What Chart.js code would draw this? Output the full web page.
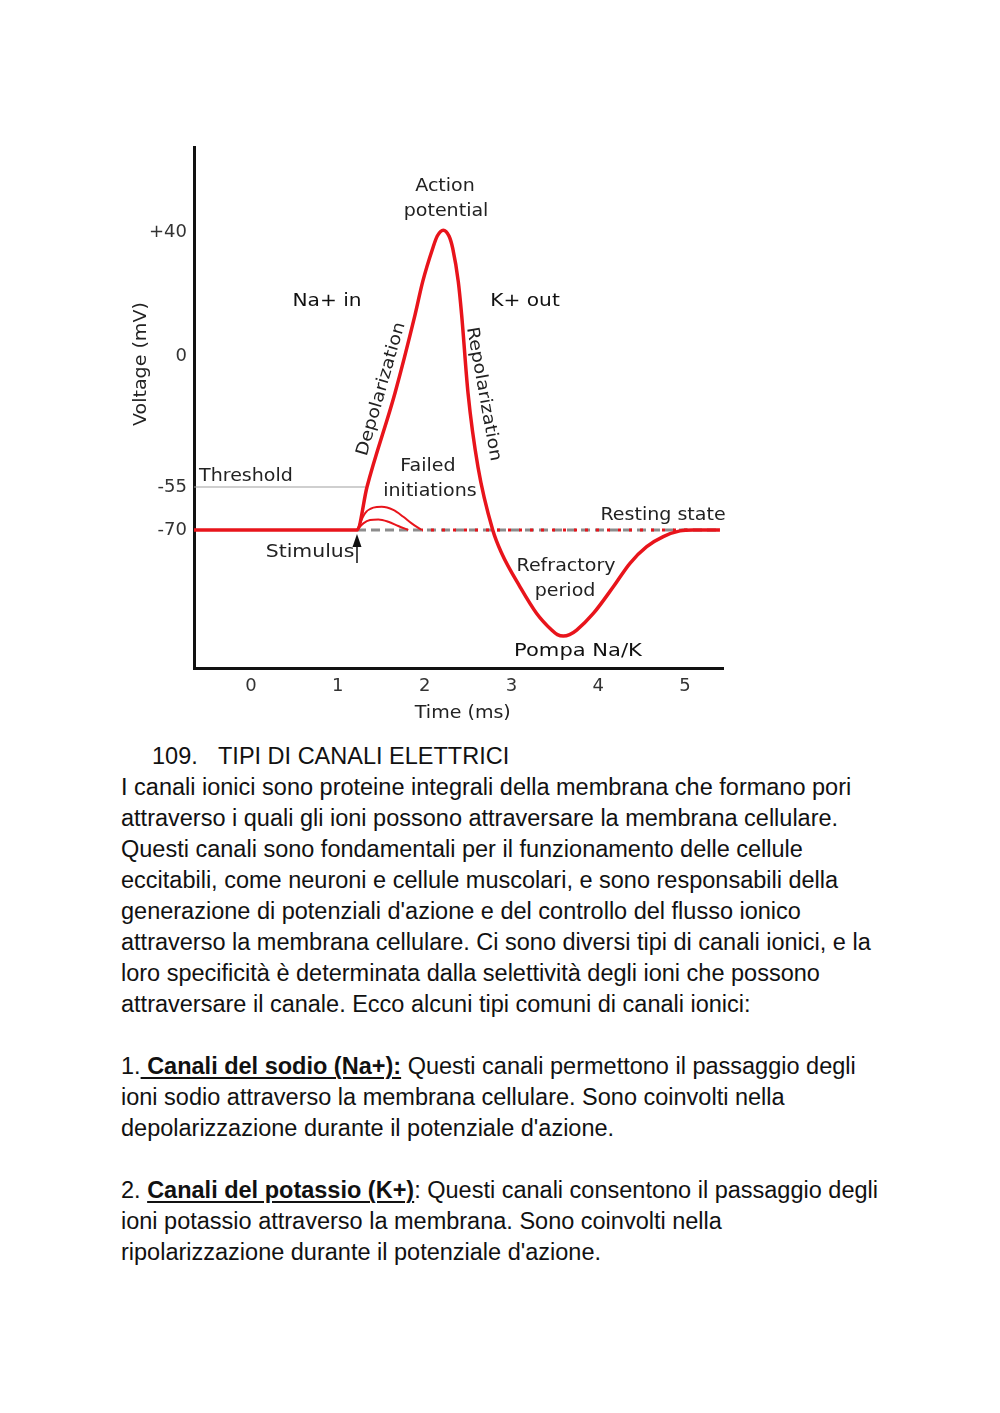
<!DOCTYPE html>
<html>
<head>
<meta charset="utf-8">
<script src="https://cdn.jsdelivr.net/npm/chart.js@4.4.1/dist/chart.umd.min.js"></script>
<style>
html,body{margin:0;padding:0;background:#fff;}
#page{position:relative;width:1000px;height:1413px;overflow:hidden;}
#chartBox{position:absolute;left:0;top:0;width:1000px;height:740px;}
#text{position:absolute;left:121px;top:741px;font-family:"Liberation Sans",Arial,sans-serif;font-size:23.5px;line-height:31px;color:#111;white-space:nowrap;}
#text .num{display:inline-block;width:66px;margin-left:31px;}
#text u{text-decoration-thickness:2px;text-underline-offset:3px;}
</style>
</head>
<body>
<div id="page">
  <div id="chartBox"><canvas id="apChart" width="1000" height="740"></canvas></div>
  <div id="text">
    <div><span class="num">109.</span>TIPI DI CANALI ELETTRICI</div>
    <div>I canali ionici sono proteine integrali della membrana che formano pori</div>
    <div>attraverso i quali gli ioni possono attraversare la membrana cellulare.</div>
    <div>Questi canali sono fondamentali per il funzionamento delle cellule</div>
    <div>eccitabili, come neuroni e cellule muscolari, e sono responsabili della</div>
    <div>generazione di potenziali d'azione e del controllo del flusso ionico</div>
    <div>attraverso la membrana cellulare. Ci sono diversi tipi di canali ionici, e la</div>
    <div>loro specificità è determinata dalla selettività degli ioni che possono</div>
    <div>attraversare il canale. Ecco alcuni tipi comuni di canali ionici:</div>
    <div>&nbsp;</div>
    <div>1.<u><b> Canali del sodio (Na+):</b></u> Questi canali permettono il passaggio degli</div>
    <div>ioni sodio attraverso la membrana cellulare. Sono coinvolti nella</div>
    <div>depolarizzazione durante il potenziale d'azione.</div>
    <div>&nbsp;</div>
    <div>2. <u><b>Canali del potassio (K+)</b></u>: Questi canali consentono il passaggio degli</div>
    <div>ioni potassio attraverso la membrana. Sono coinvolti nella</div>
    <div>ripolarizzazione durante il potenziale d'azione.</div>
  </div>
</div>
<script>
// ================= DATA =================
// action potential (time in ms, voltage in mV)
const apTime    = [-0.66, 1.221, 1.336, 1.659, 1.889, 1.978, 2.093, 2.146, 2.215, 2.281, 2.324, 2.388, 2.427, 2.500, 2.615, 2.785, 2.888, 3.099, 3.291, 3.464, 3.530, 3.598, 3.670, 3.752, 3.944, 4.174, 4.366, 4.559, 4.750, 4.942, 5.092, 5.403];
const apVoltage = [-70, -70, -55, -15.5, 13.2, 24.0, 34.7, 38.7, 40.6, 38.7, 34.7, 24.0, 13.2, -15.5, -46.6, -70, -78.1, -89.8, -99.1, -104.9, -106.5, -107.0, -106.5, -104.9, -99.1, -89.8, -81.6, -75.8, -72.3, -70.3, -70, -70];

// failed initiations
const fail1Time    = [1.221, 1.313, 1.409, 1.506, 1.639, 1.755, 1.851, 1.967];
const fail1Voltage = [-70, -64.2, -62.2, -61.9, -63.0, -65.4, -67.7, -70];
const fail2Time    = [1.221, 1.294, 1.371, 1.467, 1.582, 1.697, 1.812];
const fail2Voltage = [-70, -67.7, -66.5, -66.3, -67.1, -68.6, -70];

// resting state and threshold
const restTime       = [1.221, 5.403];
const restVoltage    = [-70, -70];
const restRedTime    = [1.97, 5.06];
const restRedVoltage = [-70, -70];
const threshTime     = [-0.66, 1.313];
const threshVoltage  = [-55, -55];

// ticks
const xTicks = [0, 1, 2, 3, 4, 5];
const yTicks = [40, 0, -55, -70];
const yTickLabels = ["+40", "0", "-55", "-70"];

// ================= Y AXIS (not to scale in the original) =================
// value -> fraction of the axis height, piecewise linear
const yMin = -118.13, yMax = 67.42;
const yBreakValues = [yMin, -70, -55, 0, 40, yMax];
const yBreakFracs  = [0, 0.26488, 0.34741, 0.59885, 0.83685, 1];

function toFrac(v){
    const b = yBreakValues, f = yBreakFracs;
    let i = 0;
    while(i < b.length - 2 && v > b[i+1]) i++;
    return f[i] + (v - b[i]) / (b[i+1] - b[i]) * (f[i+1] - f[i]);
}
function fromFrac(d){
    const b = yBreakValues, f = yBreakFracs;
    let i = 0;
    while(i < f.length - 2 && d > f[i+1]) i++;
    return b[i] + (d - f[i]) / (f[i+1] - f[i]) * (b[i+1] - b[i]);
}

class PiecewiseScale extends Chart.LinearScale {
    getPixelForValue(value){ return value === null ? NaN : this.getPixelForDecimal(toFrac(value)); }
    getValueForPixel(pixel){ return fromFrac(this.getDecimalForPixel(pixel)); }
}
PiecewiseScale.id = "piecewise";
PiecewiseScale.defaults = Chart.LinearScale.defaults;
Chart.register(PiecewiseScale);

// ================= HELPERS =================
const RED = "#e8141b";
const pts = (xs, ys) => xs.map((x, i) => ({x: x, y: ys[i]}));

function drawLabel(ctx, text, x, y, o){
    o = o || {};
    ctx.save();
    ctx.translate(x, y);
    if(o.rot) ctx.rotate(o.rot * Math.PI / 180);
    ctx.scale(o.sx || 1.12, 1);
    ctx.font = (o.weight || "normal") + " " + (o.size || 17) + "px 'DejaVu Sans'";
    ctx.fillStyle = o.color || "#222";
    ctx.textAlign = o.align || "center";
    ctx.textBaseline = "middle";
    ctx.fillText(text, 0, 0);
    ctx.restore();
}

// annotation texts, anchored in data units
const notes = [
    {text:"Action",         t:2.235, v:54.5},
    {text:"potential",      t:2.247, v:46.5},
    {text:"Na+ in",         t:0.876, v:17.5, size:18, color:"#111"},
    {text:"K+ out",         t:3.157, v:17.5, size:18, color:"#111"},
    {text:"Depolarization", t:1.503, v:-13.9, rot:-73.9},
    {text:"Repolarization", t:2.678, v:-16.0, rot:79.8},
    {text:"Threshold",      t:-0.599, v:-50.8, align:"left"},
    {text:"Failed",         t:2.039, v:-46.6},
    {text:"initiations",    t:2.062, v:-56.7},
    {text:"Resting state",  t:4.747, v:-64.8},
    {text:"Stimulus",       t:0.680, v:-78.0, sx:1.2},
    {text:"Refractory",     t:3.629, v:-82.9},
    {text:"period",         t:3.618, v:-91.6},
    {text:"Pompa Na/K",     t:3.767, v:-112.2, size:18, color:"#111", sx:1.17}
];

const notesPlugin = {
    id: "notes",
    afterDatasetsDraw(chart){
        const ctx = chart.ctx, sx = chart.scales.x, sy = chart.scales.y, a = chart.chartArea;
        notes.forEach(n => drawLabel(ctx, n.text, sx.getPixelForValue(n.t), sy.getPixelForValue(n.v), n));

        // stimulus arrow
        const px = sx.getPixelForValue(restTime[0]), py = sy.getPixelForValue(-70);
        ctx.save();
        ctx.strokeStyle = "#111"; ctx.fillStyle = "#111"; ctx.lineWidth = 1.5;
        ctx.beginPath(); ctx.moveTo(px, py + 14); ctx.lineTo(px, py + 33); ctx.stroke();
        ctx.beginPath(); ctx.moveTo(px, py + 4); ctx.lineTo(px - 4.5, py + 17); ctx.lineTo(px + 4.5, py + 17); ctx.closePath(); ctx.fill();
        ctx.restore();

        // axis titles
        drawLabel(ctx, "Voltage (mV)", a.left - 52, sy.getPixelForValue(-3.4), {rot:-90});
        drawLabel(ctx, "Time (ms)", sx.getPixelForValue(2.44), a.bottom + 46, {});
    }
};

// ================= CHART =================
const lineDs = (data, color, width, extra) => Object.assign({
    data: data, borderColor: color, borderWidth: width, pointRadius: 0,
    fill: false, cubicInterpolationMode: "monotone"
}, extra || {});

new Chart(document.getElementById("apChart").getContext("2d"), {
    type: "line",
    data: {
        datasets: [
            lineDs(pts(apTime, apVoltage), RED, 3.5),
            lineDs(pts(fail1Time, fail1Voltage), RED, 2),
            lineDs(pts(fail2Time, fail2Voltage), RED, 2),
            lineDs(pts(restRedTime, restRedVoltage), RED, 3, {borderDash:[3, 8], borderDashOffset:-9}),
            lineDs(pts(restTime, restVoltage), "#8c8c8c", 3, {borderDash:[9, 5]}),
            lineDs(pts(threshTime, threshVoltage), "#a0a0a0", 1.2)
        ]
    },
    options: {
        responsive: false, animation: false, devicePixelRatio: 1,
        layout: {padding: {left: 0, top: 147, right: 277, bottom: 0}},
        plugins: {legend: {display: false}, tooltip: {enabled: false}},
        scales: {
            x: {
                type: "linear", min: -0.657, max: 5.438,
                grid: {display: false, drawTicks: false},
                border: {display: true, color: "#111", width: 3},
                ticks: {font: {family: "DejaVu Sans", size: 18}, color: "#333", padding: 8},
                afterBuildTicks: s => { s.ticks = xTicks.map(v => ({value: v})); },
                afterFit: s => { s.height = 72; }
            },
            y: {
                type: "piecewise", min: yMin, max: yMax,
                grid: {display: false, drawTicks: false},
                border: {display: true, color: "#111", width: 3},
                ticks: {font: {family: "DejaVu Sans", size: 18}, color: "#333", padding: 7,
                        callback: (v, i) => yTickLabels[i]},
                afterBuildTicks: s => { s.ticks = yTicks.map(v => ({value: v})); },
                afterFit: s => { s.width = 194; }
            }
        }
    },
    plugins: [notesPlugin]
});
</script>
</body>
</html>
